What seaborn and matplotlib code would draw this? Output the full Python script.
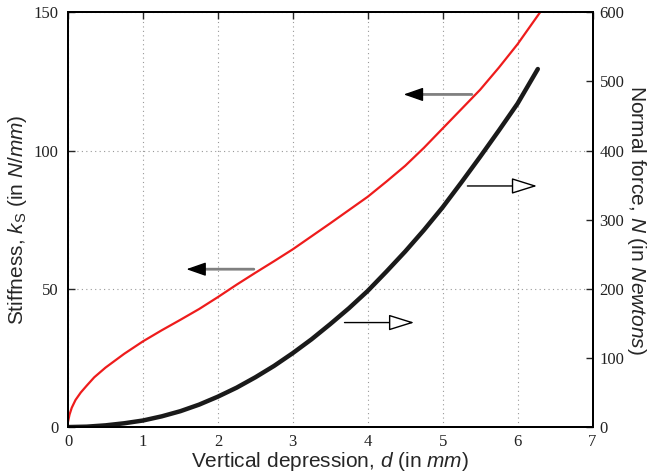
"""
Stiffness and normal force versus vertical depression (twin y axes).
"""

import matplotlib
matplotlib.use("Agg")
import matplotlib.pyplot as plt
import pandas as pd
import seaborn as sns

# Stiffness curve (left axis)
depth_k = [0, 0.02, 0.05, 0.1, 0.17, 0.25, 0.35, 0.5, 0.75, 1, 1.25, 1.5, 1.75, 2,
           2.25, 2.5, 2.75, 3, 3.25, 3.5, 3.75, 4, 4.25, 4.5, 4.75, 5, 5.25, 5.5,
           5.75, 6, 6.3]
stiffness = [1.9, 4.5, 7, 9.8, 12.5, 15, 18, 21.5, 26.5, 31, 35, 38.8, 42.7, 47,
             51.5, 55.8, 60, 64.3, 69, 73.7, 78.5, 83.3, 88.8, 94.5, 101, 108, 115,
             122, 130, 138.5, 150]

# Normal force curve (right axis)
depth_n = [0, 0.25, 0.5, 0.75, 1, 1.25, 1.5, 1.75, 2, 2.25, 2.5, 2.75, 3, 3.25,
           3.5, 3.75, 4, 4.25, 4.5, 4.75, 5, 5.25, 5.5, 5.75, 6, 6.27]
normal_force = [0, 0.6, 2.5, 5.5, 9.5, 15.5, 23, 32.5, 44, 57, 72, 88.5, 107, 127,
                149, 172, 197, 225, 254, 285, 318, 354, 391, 429, 468, 518]

x_ticks = [0, 1, 2, 3, 4, 5, 6, 7]
k_ticks = [0, 50, 100, 150]
n_ticks = [0, 100, 200, 300, 400, 500, 600]

df_k = pd.DataFrame({"d": depth_k, "k": stiffness})
df_n = pd.DataFrame({"d": depth_n, "N": normal_force})

sns.set_style("white")
plt.rcParams["mathtext.fontset"] = "custom"
plt.rcParams["mathtext.rm"] = "Liberation Sans"
plt.rcParams["mathtext.it"] = "Liberation Sans:italic"
plt.rcParams["mathtext.sf"] = "Liberation Sans"

fig = plt.figure(figsize=(6.54, 4.74), dpi=100)
ax = fig.add_axes([0.104, 0.099, 0.802, 0.875])
ax2 = ax.twinx()

sns.lineplot(data=df_k, x="d", y="k", ax=ax, color="#ee1c1c", lw=1.6)
sns.lineplot(data=df_n, x="d", y="N", ax=ax2, color="#1a1a1a", lw=3.2)

ax.set_xlim(0, 7)
ax.set_ylim(0, 150)
ax2.set_ylim(0, 600)
ax.set_xticks(x_ticks)
ax.set_yticks(k_ticks)
ax2.set_yticks(n_ticks)

serif = "Liberation Serif"
ax.tick_params(axis="both", direction="in", length=5, width=1, top=True, pad=5,
               labelfontfamily=serif, labelsize=12, labelcolor="#222222")
ax.tick_params(axis="y", right=False, pad=7)
ax2.tick_params(axis="y", direction="in", length=5, width=1, pad=5,
                labelfontfamily=serif, labelsize=12, labelcolor="#222222")

ax.grid(True, color="#999999", linestyle=(0, (1, 3)), lw=0.8)
ax.set_axisbelow(True)

for a in (ax, ax2):
    for s in a.spines.values():
        s.set_linewidth(1.4)
        s.set_color("black")

ax.set_xlabel(r"Vertical depression, $d$ (in $mm$)", fontfamily="Liberation Sans",
              fontsize=15, labelpad=0)
ax.set_ylabel(r"Stiffness, $k_\mathrm{S}$ (in $N/mm$)", fontfamily="Liberation Sans",
              fontsize=15, labelpad=3)
ax2.set_ylabel(r"Normal force, $N$ (in $Newtons$)", fontfamily="Liberation Sans",
               fontsize=15, rotation=-90, labelpad=17)

# left-pointing arrows (to stiffness axis): gray shaft, black filled head
for start, end in [((5.39, 120.3), (4.48, 120.3)), ((2.48, 57.1), (1.58, 57.1))]:
    ax.annotate("", xy=(end[0] + 0.15, end[1]), xytext=start,
                arrowprops=dict(arrowstyle="-", color="#808080", lw=2, shrinkA=0, shrinkB=0))
    ax.annotate("", xy=end, xytext=(end[0] + 0.2, end[1]),
                arrowprops=dict(arrowstyle="-|>,head_length=1.2,head_width=0.42",
                                color="black", lw=1, shrinkA=0, shrinkB=0, mutation_scale=10))

# right-pointing arrows (to normal force axis): thin shaft, open head
for start, end in [((3.69, 37.8), (4.62, 37.8)), ((5.33, 87.2), (6.26, 87.2))]:
    ax.annotate("", xy=end, xytext=start,
                arrowprops=dict(arrowstyle="-|>,head_length=1.6,head_width=0.5",
                                fc="white", ec="black", lw=1, shrinkA=0, shrinkB=0,
                                mutation_scale=10))

fig.savefig("out.png", dpi=100)
